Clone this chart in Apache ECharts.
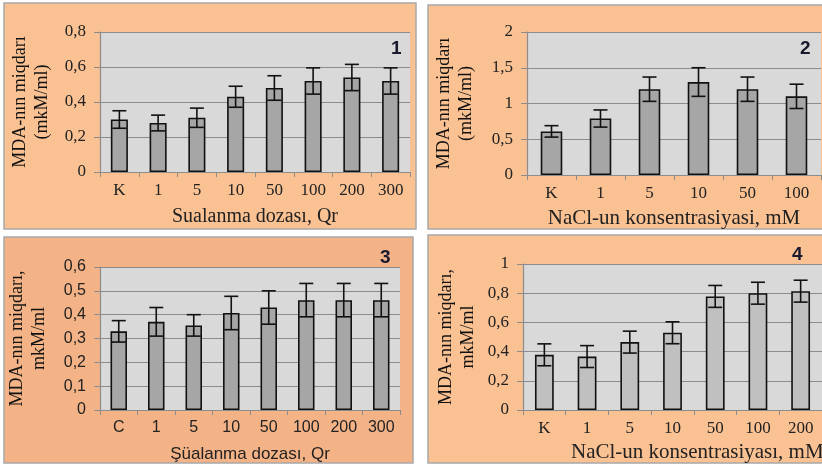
<!DOCTYPE html>
<html><head><meta charset="utf-8">
<script src="https://cdn.jsdelivr.net/npm/echarts@6/dist/echarts.min.js"></script>
<style>html,body{margin:0;padding:0;background:#fff}#c{width:822px;height:468px}</style>
</head><body><div id="c"></div>
<script>
// ---- data ----
const cats1 = ['K','1','5','10','50','100','200','300'];
const vals1 = [0.30,0.28,0.31,0.43,0.48,0.52,0.54,0.52];
const errs1 = [0.05,0.045,0.055,0.06,0.07,0.075,0.075,0.075];

const cats2 = ['K','1','5','10','50','100'];
const vals2 = [0.61,0.79,1.20,1.30,1.20,1.10];
const errs2 = [0.08,0.12,0.17,0.20,0.17,0.17];

const cats3 = ['C','1','5','10','50','100','200','300'];
const vals3 = [0.33,0.37,0.355,0.407,0.43,0.461,0.461,0.461];
const errs3 = [0.045,0.06,0.045,0.07,0.07,0.07,0.07,0.07];

const cats4 = ['K','1','5','10','50','100','200'];
const vals4 = [0.378,0.366,0.465,0.529,0.778,0.80,0.814];
const errs4 = [0.075,0.075,0.075,0.075,0.075,0.075,0.075];

const yTicks1 = {min:0,max:0.8,interval:0.2};
const yTicks2 = {min:0,max:2,interval:0.5};
const yTicks3 = {min:0,max:0.6,interval:0.1};
const yTicks4 = {min:0,max:1,interval:0.2};

const xNames = ['Sualanma dozası, Qr','NaCl-un konsentrasiyasi, mM','Şüalanma dozası, Qr','NaCl-un konsentrasiyası, mM'];
const yNames = ['MDA-nın miqdarı\n(mkM/ml)','MDA-nın miqdarı\n(mkM/ml)','MDA-nın miqdarı,\nmkM/ml','MDA-nın miqdarı,\nmkM/ml'];
const panelNums = ['1','2','3','4'];

// ---- layout ----
const SERIF = 'Liberation Serif';
const SANS = 'Liberation Sans';
const grids = [
  {left:100, top:32, width:310, height:140},
  {left:527, top:32, width:294, height:143},
  {left:100, top:267, width:300, height:143},
  {left:523, top:264, width:301, height:146}
];
const panels = [
  {x:4,y:3,w:412,h:226,c:'#FAC193'},
  {x:428,y:5,w:400,h:224,c:'#FAC193'},
  {x:4,y:237,w:409,h:226,c:'#F4B386'},
  {x:428,y:235,w:400,h:228,c:'#FAC193'}
];
const barColors = ['#A6A6A6','#A6A6A6','#A6A6A6','#C0C0C0'];
const labelFonts = [SERIF,SERIF,SANS,SERIF];
const cats = [cats1,cats2,cats3,cats4];
const vals = [vals1,vals2,vals3,vals4];
const errs = [errs1,errs2,errs3,errs4];
const yt = [yTicks1,yTicks2,yTicks3,yTicks4];
const yNameGap = [47,50,50,44];
const xNameSize = [20,21,17,21];
const xNameGap = [35,33,36,0];

const fmt = v => String(+v.toFixed(2)).replace('.',',');

const option = {
  backgroundColor:'#fff',
  animation:false,
  graphic: panels.map(p => ({type:'rect', z:-10, shape:{x:p.x,y:p.y,width:p.w,height:p.h},
      style:{fill:p.c, stroke:'#A8A8A8', lineWidth:1.5}})),
  title: [
    {text:panelNums[0], left:386, top:34},
    {text:panelNums[1], left:795, top:34},
    {text:panelNums[2], left:375, top:243},
    {text:panelNums[3], left:787, top:240},
    {text:xNames[3], left:566, top:437, textStyle:{fontFamily:SERIF,fontSize:xNameSize[3],fontWeight:'normal',color:'#222'}}
  ].map((t,i)=> i<4 ? Object.assign(t,{textStyle:{fontFamily:'Liberation Sans',fontSize:19,fontWeight:'bold',color:'#1a1a2e'}}) : t),
  grid: grids.map(g => Object.assign({show:true, backgroundColor:'#D9D9D9', borderWidth:0}, g)),
  xAxis: grids.map((g,i)=>({
    type:'category', gridIndex:i, data:cats[i],
    name: i===3 ? '' : xNames[i], nameLocation:'middle', nameGap: xNameGap[i],
    nameTextStyle:{fontFamily: i===2 ? SANS : SERIF, fontSize: xNameSize[i], color:'#222'},
    axisLine:{show:true, lineStyle:{color:'#8C8C8C', width:1.2}},
    axisTick:{show:true, length:5, lineStyle:{color:'#8C8C8C'}},
    axisLabel:{fontFamily:labelFonts[i], fontSize: i===2 ? 16 : 17, color:'#222', margin:10, interval:0},
    splitLine:{show:false}
  })),
  yAxis: grids.map((g,i)=>({
    type:'value', gridIndex:i, min:yt[i].min, max:yt[i].max, interval:yt[i].interval,
    name:yNames[i], nameLocation:'middle', nameRotate:90, nameGap:yNameGap[i],
    nameTextStyle:{fontFamily:SERIF, fontSize:18, color:'#111', lineHeight:22},
    axisLine:{show:true, lineStyle:{color:'#8C8C8C', width:1.2}},
    axisTick:{show:true, length:6, lineStyle:{color:'#8C8C8C'}},
    axisLabel:{fontFamily:labelFonts[i], fontSize: i===2 ? 16 : 17, color:'#222', margin:14, formatter:fmt},
    splitLine:{show:true, lineStyle:{color:'#8C8C8C', width:1.2}}
  })),
  series: []
};

for (let i=0;i<4;i++){
  option.series.push({
    type:'bar', xAxisIndex:i, yAxisIndex:i, data:vals[i], barWidth:'44%',
    itemStyle:{color:barColors[i], borderColor:'#111', borderWidth:1.6}
  });
  option.series.push({
    type:'custom', xAxisIndex:i, yAxisIndex:i, z:5,
    data: vals[i].map((v,k)=>[k, v, errs[i][k]]),
    renderItem:(params, api)=>{
      const x = api.value(0), v = api.value(1), e = api.value(2);
      const hi = api.coord([x, v+e]), lo = api.coord([x, v-e]);
      const hw = 7;
      const st = {stroke:'#111', lineWidth:1.6};
      return {type:'group', children:[
        {type:'line', shape:{x1:hi[0],y1:hi[1],x2:lo[0],y2:lo[1]}, style:st},
        {type:'line', shape:{x1:hi[0]-hw,y1:hi[1],x2:hi[0]+hw,y2:hi[1]}, style:st},
        {type:'line', shape:{x1:lo[0]-hw,y1:lo[1],x2:lo[0]+hw,y2:lo[1]}, style:st}
      ]};
    }
  });
}

const chart = echarts.init(document.getElementById('c'), null, {renderer:'canvas'});
chart.setOption(option);
</script></body></html>
